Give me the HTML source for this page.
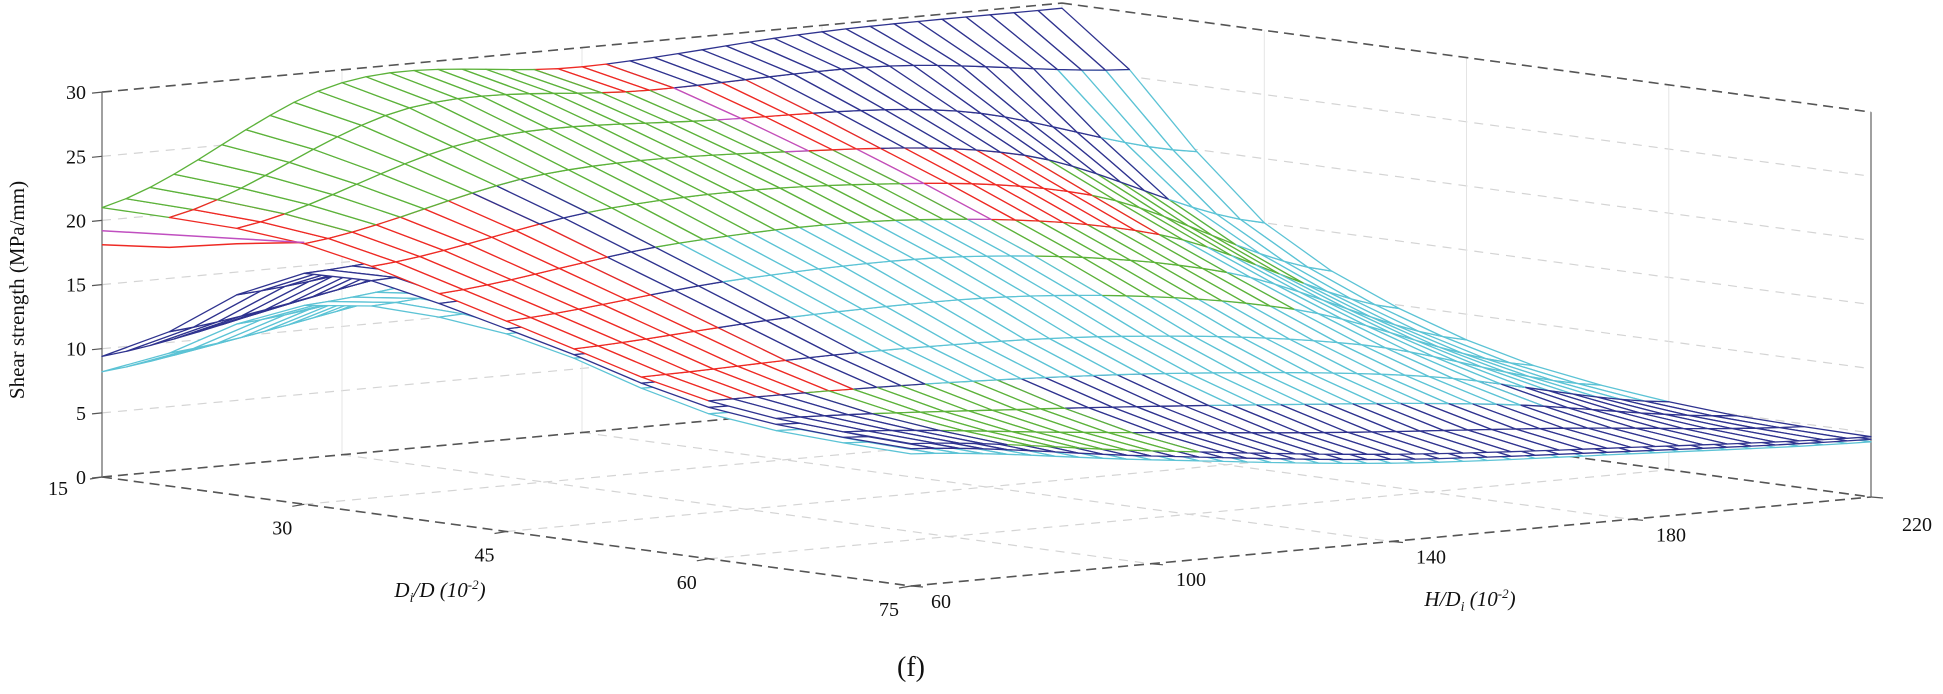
<!DOCTYPE html>
<html><head><meta charset="utf-8"><style>
html,body{margin:0;padding:0;background:#fff;}
svg{display:block;}
text{font-family:"Liberation Serif",serif;fill:#111;}
</style></head><body>
<svg id="chart" width="1943" height="694" viewBox="0 0 1943 694" xmlns="http://www.w3.org/2000/svg">
<g id="grid"></g>
<g id="box"></g>
<g id="mesh"></g>
<g id="labels"></g>
</svg>
<script>
// ---- data ----
const dVals = [15, 30, 45, 60, 75];
const hVals = [60, 100, 140, 180, 220];
const zTicks = [0, 5, 10, 15, 20, 25, 30];
const dTicks = [15, 30, 45, 60, 75];
const hTicks = [60, 100, 140, 180, 220];
// top envelope surface (rows: D, cols: H)
const topZ = [
  [21.0, 29.0, 28.5, 29.5, 29.6],
  [20.3, 24.0, 24.0, 22.0, 15.0],
  [16.4, 18.0, 18.0, 15.0, 8.0],
  [12.3, 12.0, 11.0, 9.0, 5.3],
  [11.1, 8.8, 6.8, 5.6, 4.7]
];
const blueZ = [
  [9.4, 13.0, 16.0, 18.0, 20.0],
  [18.0, 19.5, 20.0, 18.0, 13.0],
  [15.8, 16.5, 16.0, 13.0, 7.5],
  [11.8, 11.0, 10.0, 8.3, 5.0],
  [10.7, 8.4, 6.4, 5.3, 4.5]
];
const cyanZ = [
  [8.2, 11.5, 14.0, 16.0, 18.0],
  [15.5, 17.5, 18.0, 16.0, 12.0],
  [15.4, 16.0, 15.5, 12.5, 7.2],
  [11.3, 10.6, 9.6, 8.0, 4.8],
  [10.3, 8.1, 6.1, 5.1, 4.3]
];
const edgeD = [15, 20, 25, 30];
const redEdge = [18.1, 18.6, 19.6, 20.4];
const magentaEdge = [19.2, 19.6, 20.0, 20.4];

// ---- projection ----
const O = [102, 477], A = [809, 109], B = [960, -89], ZS = 12.83;
function P(D, H, z) {
  const u = (D - 15) / 60, v = (H - 60) / 160;
  return [O[0] + A[0]*u + B[0]*v, O[1] + A[1]*u + B[1]*v - ZS*z];
}
function depth(D, H, z) { return (D-15)/60 - 0.843*(H-60)/160 + z/14.3; }
const NS = 'http://www.w3.org/2000/svg';
function mk(tag, attrs, parent) {
  const e = document.createElementNS(NS, tag);
  for (const k in attrs) e.setAttribute(k, attrs[k]);
  parent.appendChild(e); return e;
}
function line(p, q, stroke, dash, w, parent, name) {
  const e = mk('line', {x1:p[0].toFixed(1), y1:p[1].toFixed(1), x2:q[0].toFixed(1), y2:q[1].toFixed(1), stroke:stroke, 'stroke-width':w}, parent);
  if (dash) e.setAttribute('stroke-dasharray', dash);
  
  
  return e;
}
const grid = document.getElementById('grid'), box = document.getElementById('box');
const mesh = document.getElementById('mesh'), labels = document.getElementById('labels');
const gc = '#d4d4d4', gd = '9,7';
zTicks.forEach(z => {
  line(P(15,60,z), P(15,220,z), gc, gd, 1.2, grid, 'z-gridline-left-wall');
  line(P(15,220,z), P(75,220,z), gc, gd, 1.2, grid, 'z-gridline-right-wall');
});
dTicks.forEach(d => {
  line(P(d,60,0), P(d,220,0), gc, gd, 1.2, grid, 'd-gridline-floor');
  line(P(d,220,0), P(d,220,30), '#e4e4e4', null, 1, grid, 'd-gridline-wall');
});
hTicks.forEach(h => {
  line(P(15,h,0), P(75,h,0), gc, gd, 1.2, grid, 'h-gridline-floor');
  line(P(15,h,0), P(15,h,30), '#e4e4e4', null, 1, grid, 'h-gridline-wall');
});
const bc = '#555', bd = '10,6';
line(P(15,60,0), P(75,60,0), bc, bd, 1.6, box, 'd-axis-line');
line(P(75,60,0), P(75,220,0), bc, bd, 1.6, box, 'h-axis-line');
line(P(15,60,0), P(15,220,0), bc, bd, 1.6, box, 'floor-back-edge-left');
line(P(15,220,0), P(75,220,0), bc, bd, 1.6, box, 'floor-back-edge-right');
line(P(15,60,30), P(15,220,30), bc, bd, 1.6, box, 'top-edge-left');
line(P(15,220,30), P(75,220,30), bc, bd, 1.6, box, 'top-edge-right');
line(P(15,60,0), P(15,60,30), '#777', null, 1.4, box, 'z-axis-line');
line(P(75,220,0), P(75,220,30), '#777', null, 1.4, box, 'right-vertical-edge');

// ---- interpolation ----
function cr(p0,p1,p2,p3,t){return 0.5*((2*p1)+(-p0+p2)*t+(2*p0-5*p1+4*p2-p3)*t*t+(-p0+3*p1-3*p2+p3)*t*t*t);}
function interpRow(arr, f) {
  const n = arr.length; let i = Math.floor(f); if (i >= n-1) i = n-2; if (i < 0) i = 0;
  const t = f - i, g = k => arr[Math.max(0, Math.min(n-1, k))];
  return cr(g(i-1), g(i), g(i+1), g(i+2), t);
}
function sample(tab, D, H) {
  const fi = (D - dVals[0]) / (dVals[1]-dVals[0]), fj = (H - hVals[0]) / (hVals[1]-hVals[0]);
  const col = tab.map(r => interpRow(r, fj));
  return interpRow(col, fi);
}
const C = {g:'#5cb23a', r:'#ee2a24', b:'#2f338f', c:'#5cc3d5', m:'#c04fc0'};
function topColor(u, v) {
  if (u > 0.78) return (v > 0.1 && v < 0.3) ? C.g : (v > 0.45 && v < 0.8 && u < 0.85) ? C.c : C.b;
  if (u > 0.45) return v < 0.15 ? C.r : v < 0.22 ? C.b : (v > 0.55 && v < 0.75 && u < 0.6) ? C.g : C.c;
  if (u > 0.25) return v < 0.18 ? C.r : v < 0.22 ? C.b : v < 0.55 ? C.g : v < 0.57 ? C.m : v < 0.75 ? C.r : v < 0.9 ? C.g : C.c;
  if (u > 0.1) return v < 0.06 ? C.r : v < 0.5 ? C.g : v < 0.52 ? C.m : v < 0.6 ? C.r : v < 0.9 ? C.b : C.c;
  return v < 0.45 ? C.g : v < 0.53 ? C.r : v > 0.97 && u > 0.06 ? C.c : C.b;
}
const quads = [];
function build(tab, colorFn, dStep, hStep, name) {
  const Ds = [], Hs = [];
  for (let d = 15; d <= 75.001; d += dStep) Ds.push(d);
  for (let h = 60; h <= 220.001; h += hStep) Hs.push(h);
  const Z = Ds.map(d => Hs.map(h => sample(tab, d, h)));
  for (let i = 0; i < Ds.length-1; i++) for (let j = 0; j < Hs.length-1; j++) {
    const pts = [[i,j],[i+1,j],[i+1,j+1],[i,j+1]];
    let dep = 0; const scr = pts.map(([a,b]) => { dep += depth(Ds[a], Hs[b], Z[a][b]); return P(Ds[a], Hs[b], Z[a][b]); });
    const u = ((Ds[i]+Ds[i+1])/2 - 15)/60, v = ((Hs[j]+Hs[j+1])/2 - 60)/160;
    quads.push({pts: scr, dep: dep/4, col: colorFn(u, v), name: name});
  }
}
build(cyanZ, () => C.c, 5, 4, 'cyan-surface-cell');
build(blueZ, () => C.b, 5, 4, 'blue-surface-cell');
build(topZ, topColor, 5, 4, 'top-surface-cell');
quads.sort((a, b) => a.dep - b.dep);
quads.forEach(q => {
  const e = mk('polygon', {points: q.pts.map(p => p[0].toFixed(1)+','+p[1].toFixed(1)).join(' '), fill:'#fff', stroke:q.col, 'stroke-width':1.3, 'stroke-linejoin':'round'}, mesh);
  
  
});
function edge(vals, col, name) {
  const pts = edgeD.map((d, k) => P(d, 60, vals[k]));
  const e = mk('polyline', {points: pts.map(p => p[0].toFixed(1)+','+p[1].toFixed(1)).join(' '), fill:'none', stroke:col, 'stroke-width':1.5}, mesh);
  
  
}
edge(redEdge, C.r, 'red-surface-front-edge');
edge(magentaEdge, C.m, 'magenta-surface-front-edge');

// ---- labels ----
function txt(x, y, s, size, anchor, name, extra) {
  const e = mk('text', {x:x, y:y, 'font-size':size, 'text-anchor':anchor}, labels);
  e.textContent = s;
  if (extra) for (const k in extra) e.setAttribute(k, extra[k]);
  
  
  return e;
}
zTicks.forEach(z => {
  const p = P(15,60,z);
  line([p[0]-10, p[1]+1], p, '#555', null, 1.2, labels, 'z-tick');
  txt(p[0]-16, p[1]+7, String(z), 20, 'end', 'z-tick-label');
});
dTicks.forEach(d => {
  const p = P(d,60,0);
  line(p, [p[0]-12, p[1]+2], '#555', null, 1.2, labels, 'd-tick');
  txt(p[0]-22 - (d===15?22:0), p[1]+30 - (d===15?12:0), String(d), 20, 'middle', 'd-tick-label');
});
hTicks.forEach(h => {
  const p = P(75,h,0);
  line(p, [p[0]+12, p[1]+1], '#555', null, 1.2, labels, 'h-tick');
  txt(p[0]+40 + (h===60?-10:0) + (h===220?6:0), p[1]+22 + (h===220?12:0), String(h), 20, 'middle', 'h-tick-label');
});
txt(24, 290, 'Shear strength (MPa/mm)', 21, 'middle', 'z-axis-title', {transform:'rotate(-90 24 290)'});
const dt = txt(440, 597, '', 21, 'middle', 'd-axis-title', {'font-style':'italic'});
dt.innerHTML = 'D<tspan font-size="14" dy="5">i</tspan><tspan dy="-5">/D (10</tspan><tspan font-size="13" dy="-8">-2</tspan><tspan dy="8">)</tspan>';
const ht = txt(1470, 606, '', 21, 'middle', 'h-axis-title', {'font-style':'italic'});
ht.innerHTML = 'H/D<tspan font-size="14" dy="5">i</tspan><tspan dy="-5"> (10</tspan><tspan font-size="13" dy="-8">-2</tspan><tspan dy="8">)</tspan>';
txt(911, 676, '(f)', 28, 'middle', 'panel-label');
</script>
</body></html>
